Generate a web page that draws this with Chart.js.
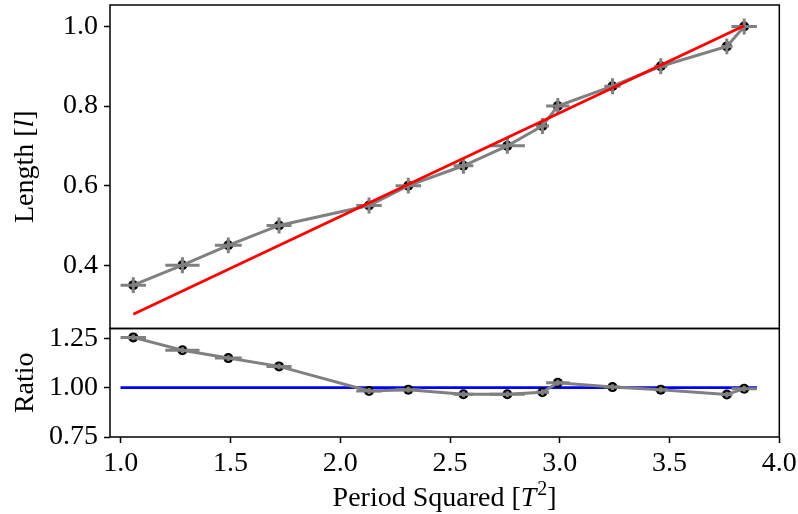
<!DOCTYPE html>
<html>
<head>
<meta charset="utf-8">
<script src="https://cdn.jsdelivr.net/npm/chart.js@4.4.1/dist/chart.umd.min.js"></script>
<style>
  html, body { margin: 0; padding: 0; background: #fff; }
  #wrap { width: 798px; height: 514px; position: relative; }
</style>
</head>
<body>
<div id="wrap"><canvas id="chart"></canvas></div>
<script>
// Pendel: Laenge gegen Periode^2, darunter das Verhaeltnis zum Fit.
const PERIOD_SQ     = [1.057, 1.281, 1.490, 1.721, 2.131, 2.310, 2.561, 2.761, 2.921, 2.991, 3.240, 3.460, 3.761, 3.840];
const PERIOD_SQ_ERR = [0.058, 0.078, 0.061, 0.057, 0.058, 0.058, 0.045, 0.080, 0.030, 0.053, 0.037, 0.030, 0.026, 0.058];
const LENGTH        = [0.35, 0.40, 0.45, 0.50, 0.55, 0.60, 0.65, 0.70, 0.75, 0.80, 0.85, 0.90, 0.95, 1.00];
const LENGTH_ERR    = [0.02, 0.02, 0.02, 0.02, 0.02, 0.02, 0.02, 0.02, 0.02, 0.02, 0.02, 0.02, 0.02, 0.02];
const RATIO         = [1.255, 1.190, 1.150, 1.108, 0.983, 0.990, 0.967, 0.967, 0.977, 1.025, 1.003, 0.990, 0.965, 0.995];
const RATIO_ERR     = [0.015, 0.015, 0.015, 0.015, 0.015, 0.015, 0.015, 0.015, 0.015, 0.015, 0.015, 0.015, 0.015, 0.015];

const FIT_X = [1.057, 3.840];
const FIT_Y = [0.277, 1.002];
const REF_X = [0.999, 3.898];
const REF_Y = [1.0, 1.0];

const X_TICKS      = [1.0, 1.5, 2.0, 2.5, 3.0, 3.5, 4.0];
const LENGTH_TICKS = [0.4, 0.6, 0.8, 1.0];
const RATIO_TICKS  = [0.75, 1.00, 1.25];

// Titel in Stuecken: [text, stil]
const X_TITLE      = [['Period Squared [', ''], ['T', 'italic'], ['2', 'sup'], [']', '']];
const LENGTH_TITLE = [['Length [', ''], ['l', 'italic'], [']', '']];
const RATIO_TITLE  = [['Ratio', '']];

const FONT = "'Liberation Serif', 'Times New Roman', serif";
const FONT_SIZE = 28;
const GRAY = '#808080';

const pts = (xs, ys) => xs.map((x, i) => ({ x, y: ys[i] }));

function fontFor(style, size) {
  if (style === 'italic') return 'italic ' + size + 'px ' + FONT;
  if (style === 'sup') return Math.round(size * 0.7) + 'px ' + FONT;
  return size + 'px ' + FONT;
}

// Zeichnet einen Titel aus Stuecken, zentriert auf (cx, baseY).
function drawTitle(ctx, parts, cx, baseY, rotated) {
  const size = FONT_SIZE;
  ctx.save();
  ctx.fillStyle = '#000';
  ctx.textBaseline = 'alphabetic';
  ctx.textAlign = 'left';
  let total = 0;
  parts.forEach(([t, s]) => { ctx.font = fontFor(s, size); total += ctx.measureText(t).width + (s === 'sup' ? 1 : 0); });
  ctx.translate(cx, baseY);
  if (rotated) ctx.rotate(-Math.PI / 2);
  let x = -total / 2;
  parts.forEach(([t, s]) => {
    ctx.font = fontFor(s, size);
    const dy = s === 'sup' ? -11 : 0;
    if (s === 'sup') x += 1;
    ctx.fillText(t, x, dy);
    x += ctx.measureText(t).width;
  });
  ctx.restore();
}

// Fehlerbalken nach dem grauen Linien-Datensatz zeichnen
const errorBars = {
  id: 'errorBars',
  afterDatasetDraw(chart, args) {
    const ds = chart.data.datasets[args.index];
    if (!ds.errX) return;
    const xs = chart.scales.x;
    const ys = chart.scales[ds.yAxisID];
    const ctx = chart.ctx;
    ctx.save();
    ctx.strokeStyle = GRAY;
    ctx.lineWidth = 3;
    ds.data.forEach((p, i) => {
      const px = xs.getPixelForValue(p.x);
      const py = ys.getPixelForValue(p.y);
      ctx.beginPath();
      ctx.moveTo(xs.getPixelForValue(p.x - ds.errX[i]), py);
      ctx.lineTo(xs.getPixelForValue(p.x + ds.errX[i]), py);
      ctx.moveTo(px, ys.getPixelForValue(p.y - ds.errY[i]));
      ctx.lineTo(px, ys.getPixelForValue(p.y + ds.errY[i]));
      ctx.stroke();
    });
    ctx.restore();
  },
};

// Rahmen um beide Panels und Achsentitel
const frames = {
  id: 'frames',
  afterDraw(chart) {
    const ctx = chart.ctx;
    const area = chart.chartArea;
    ctx.save();
    ctx.strokeStyle = '#000';
    ctx.lineWidth = 1.5;
    ['yl', 'yr'].forEach((id) => {
      const s = chart.scales[id];
      ctx.strokeRect(area.left, s.top, area.right - area.left, s.bottom - s.top);
    });
    ctx.restore();
    const yl = chart.scales.yl, yr = chart.scales.yr;
    drawTitle(ctx, LENGTH_TITLE, 33, (yl.top + yl.bottom) / 2, true);
    drawTitle(ctx, RATIO_TITLE, 33, (yr.top + yr.bottom) / 2, true);
    drawTitle(ctx, X_TITLE, (area.left + area.right) / 2, 506, false);
  },
};

const tickFont = { family: FONT, size: FONT_SIZE };
const gridOpts = { drawOnChartArea: false, drawTicks: true, tickLength: 6, tickColor: '#000', tickWidth: 1.5, color: '#000' };

// feste Achsenmasse, keine Zusatzabstaende fuer ueberstehende Labels
const fixY = (s) => { s.width = 110; s.paddingTop = 0; s.paddingBottom = 0; };
const fixX = (s) => { s.height = 77; s.paddingLeft = 0; s.paddingRight = 0; };

new Chart(document.getElementById('chart'), {
  type: 'scatter',
  data: {
    datasets: [
      { label: 'Fit', data: pts(FIT_X, FIT_Y), yAxisID: 'yl', showLine: true,
        borderColor: '#ff0000', borderWidth: 2.8, pointRadius: 0, order: 1 },
      { label: 'Length', data: pts(PERIOD_SQ, LENGTH), yAxisID: 'yl', showLine: true,
        borderColor: GRAY, borderWidth: 3, pointRadius: 0, order: 4,
        errX: PERIOD_SQ_ERR, errY: LENGTH_ERR },
      { label: 'Length points', data: pts(PERIOD_SQ, LENGTH), yAxisID: 'yl', showLine: false,
        pointRadius: 5, pointBackgroundColor: '#000', pointBorderColor: '#000', pointBorderWidth: 0, order: 5 },
      { label: 'Reference', data: pts(REF_X, REF_Y), yAxisID: 'yr', showLine: true,
        borderColor: '#0000ff', borderWidth: 2.8, pointRadius: 0, order: 6 },
      { label: 'Ratio', data: pts(PERIOD_SQ, RATIO), yAxisID: 'yr', showLine: true,
        borderColor: GRAY, borderWidth: 3, pointRadius: 0, order: 4,
        errX: PERIOD_SQ_ERR, errY: RATIO_ERR },
      { label: 'Ratio points', data: pts(PERIOD_SQ, RATIO), yAxisID: 'yr', showLine: false,
        pointRadius: 5, pointBackgroundColor: '#000', pointBorderColor: '#000', pointBorderWidth: 0, order: 5 },
    ],
  },
  options: {
    responsive: true,
    maintainAspectRatio: false,
    animation: false,
    layout: { padding: { top: 2.5, right: 18.7, left: 0, bottom: 0 } },
    plugins: { legend: { display: false }, tooltip: { enabled: false } },
    scales: {
      x: {
        type: 'linear', position: 'bottom', min: 0.951, max: 4.0,
        afterBuildTicks: (s) => { s.ticks = X_TICKS.map((v) => ({ value: v })); },
        afterFit: fixX,
        ticks: { font: tickFont, color: '#000', padding: 4, maxRotation: 0, autoSkip: false,
                 callback: (v) => Number(v).toFixed(1) },
        grid: gridOpts,
        border: { display: false },
      },
      // zuerst definierte Achse landet im Stapel unten
      yr: {
        type: 'linear', position: 'left', stack: 'panels', stackWeight: 109, min: 0.75, max: 1.3,
        afterBuildTicks: (s) => { s.ticks = RATIO_TICKS.map((v) => ({ value: v })); },
        afterFit: fixY,
        ticks: { font: tickFont, color: '#000', padding: 6, autoSkip: false,
                 callback: (v) => Number(v).toFixed(2) },
        grid: gridOpts,
        border: { display: false },
      },
      yl: {
        type: 'linear', position: 'left', stack: 'panels', stackWeight: 325, min: 0.241, max: 1.054,
        afterBuildTicks: (s) => { s.ticks = LENGTH_TICKS.map((v) => ({ value: v })); },
        afterFit: fixY,
        ticks: { font: tickFont, color: '#000', padding: 6, autoSkip: false,
                 callback: (v) => Number(v).toFixed(1) },
        grid: gridOpts,
        border: { display: false },
      },
    },
  },
  plugins: [errorBars, frames],
});
</script>
</body>
</html>
